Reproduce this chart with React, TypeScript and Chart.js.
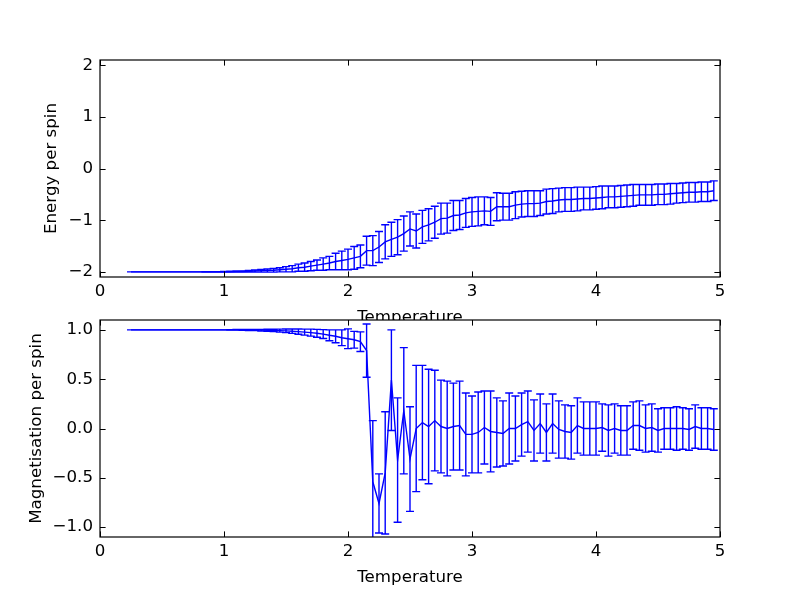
import { useEffect, useRef } from "react";
import { Chart, registerables } from "chart.js";

Chart.register(...registerables);
Chart.defaults.font.family = "'DejaVu Sans', sans-serif";
Chart.defaults.font.size = 16.67;
Chart.defaults.color = "#000";

// Temperature grid
const temperature = [
  0.25, 0.3, 0.35, 0.4, 0.45, 0.5, 0.55, 0.6, 0.65, 0.7, 0.75, 0.8, 0.85, 0.9, 0.95, 1.0,
  1.05, 1.1, 1.15, 1.2, 1.25, 1.3, 1.35, 1.4, 1.45, 1.5, 1.55, 1.6, 1.65, 1.7, 1.75, 1.8,
  1.85, 1.9, 1.95, 2.0, 2.05, 2.1, 2.15, 2.2, 2.25, 2.3, 2.35, 2.4, 2.45, 2.5, 2.55, 2.6,
  2.65, 2.7, 2.75, 2.8, 2.85, 2.9, 2.95, 3.0, 3.05, 3.1, 3.15, 3.2, 3.25, 3.3, 3.35, 3.4,
  3.45, 3.5, 3.55, 3.6, 3.65, 3.7, 3.75, 3.8, 3.85, 3.9, 3.95, 4.0, 4.05, 4.1, 4.15, 4.2,
  4.25, 4.3, 4.35, 4.4, 4.45, 4.5, 4.55, 4.6, 4.65, 4.7, 4.75, 4.8, 4.85, 4.9, 4.95,
];

// Energy per spin and its error
const energy = [
  -2.0, -2.0, -2.0, -2.0, -2.0, -2.0, -2.0, -2.0, -2.0, -2.0, -2.0, -2.0, -2.0, -2.0, -1.999, -1.998,
  -1.997, -1.995, -1.993, -1.99, -1.985, -1.98, -1.975, -1.97, -1.96, -1.95, -1.94, -1.92, -1.91, -1.89, -1.87, -1.85,
  -1.83, -1.8, -1.78, -1.76, -1.73, -1.7, -1.59, -1.59, -1.52, -1.42, -1.37, -1.33, -1.26, -1.17, -1.21, -1.13,
  -1.09, -1.04, -0.97, -0.96, -0.91, -0.9, -0.86, -0.84, -0.83, -0.82, -0.83, -0.74, -0.74, -0.74, -0.71, -0.69,
  -0.68, -0.68, -0.67, -0.64, -0.63, -0.61, -0.6, -0.6, -0.59, -0.58, -0.58, -0.57, -0.56, -0.55, -0.55, -0.54,
  -0.53, -0.52, -0.51, -0.51, -0.51, -0.5, -0.5, -0.49, -0.48, -0.47, -0.46, -0.46, -0.45, -0.45, -0.43,
];
const energyErr = [
  0, 0, 0, 0, 0, 0, 0, 0, 0, 0, 0, 0, 0.002, 0.003, 0.004, 0.006,
  0.008, 0.01, 0.012, 0.015, 0.02, 0.025, 0.03, 0.035, 0.04, 0.05, 0.06, 0.07, 0.08, 0.09, 0.1, 0.12,
  0.13, 0.16, 0.18, 0.2, 0.22, 0.22, 0.28, 0.29, 0.3, 0.33, 0.33, 0.34, 0.34, 0.33, 0.33, 0.32,
  0.31, 0.31, 0.3, 0.29, 0.29, 0.28, 0.28, 0.28, 0.28, 0.27, 0.27, 0.27, 0.26, 0.26, 0.26, 0.25,
  0.25, 0.25, 0.24, 0.24, 0.24, 0.23, 0.23, 0.23, 0.23, 0.22, 0.22, 0.22, 0.22, 0.21, 0.21, 0.21,
  0.21, 0.21, 0.2, 0.2, 0.2, 0.2, 0.2, 0.2, 0.19, 0.19, 0.19, 0.19, 0.19, 0.19, 0.19,
];

// Magnetisation per spin and its error
const magnetisation = [
  1.0, 1.0, 1.0, 1.0, 1.0, 1.0, 1.0, 1.0, 1.0, 1.0, 1.0, 1.0, 1.0, 1.0, 1.0, 1.0,
  1.0, 1.0, 0.999, 0.999, 0.998, 0.997, 0.996, 0.994, 0.992, 0.99, 0.986, 0.982, 0.977, 0.972, 0.965, 0.957,
  0.945, 0.935, 0.92, 0.91, 0.9, 0.88, 0.79, -0.54, -0.76, -0.45, 0.49, -0.32, 0.18, -0.31, 0.0, 0.06,
  0.02, 0.08, 0.02, 0.0, 0.02, 0.03, -0.06, -0.06, -0.04, 0.01, -0.03, -0.04, -0.05, 0.0, 0.0, 0.04,
  0.07, -0.02, 0.05, -0.04, 0.05, -0.01, -0.03, -0.04, 0.03, 0.0, 0.0, 0.0, 0.01, -0.02, 0.0, -0.02,
  -0.02, 0.03, 0.03, 0.0, 0.01, -0.02, 0.0, 0.0, 0.0, 0.0, -0.01, 0.02, 0.0, 0.0, -0.01,
];
const magnetisationErr = [
  0, 0, 0, 0, 0, 0, 0, 0, 0, 0, 0, 0, 0, 0, 0, 0,
  0.002, 0.003, 0.004, 0.005, 0.006, 0.008, 0.01, 0.012, 0.015, 0.018, 0.022, 0.026, 0.03, 0.035, 0.04, 0.045,
  0.055, 0.065, 0.08, 0.1, 0.085, 0.1, 0.27, 0.62, 0.3, 0.62, 0.51, 0.63, 0.64, 0.53, 0.64, 0.58,
  0.58, 0.51, 0.47, 0.48, 0.44, 0.45, 0.42, 0.39, 0.41, 0.37, 0.41, 0.35, 0.33, 0.36, 0.33, 0.32,
  0.31, 0.31, 0.3, 0.29, 0.3, 0.29, 0.27, 0.27, 0.28, 0.27, 0.27, 0.27, 0.24, 0.26, 0.25, 0.25,
  0.25, 0.24, 0.25, 0.24, 0.24, 0.22, 0.21, 0.21, 0.22, 0.21, 0.21, 0.22, 0.21, 0.21, 0.21,
];

// Tick values
const xTicks = [0, 1, 2, 3, 4, 5];
const energyTicks = [-2, -1, 0, 1, 2];
const magnetisationTicks = [-1.0, -0.5, 0.0, 0.5, 1.0];

const BLUE = "#0000ff";
const CAP = 4;
const TICK_LEN = 5.6;

const minus = (s: string) => s.replace("-", "\u2212");

type Panel = {
  values: number[];
  errors: number[];
  yMin: number;
  yMax: number;
  yTicks: number[];
  yTitle: string;
  yTitlePad: number;
  format: (v: number) => string;
  canvasH: number;
  areaTop: number;
  areaBottom: number;
  xTitlePad: number;
};

function makePlugins(values: number[], errors: number[]) {
  return [
    {
      id: "axesBackground",
      beforeDraw(chart: any) {
        const { ctx, chartArea: a } = chart;
        ctx.save();
        ctx.fillStyle = "#fff";
        ctx.fillRect(a.left, a.top, a.right - a.left, a.bottom - a.top);
        ctx.restore();
      },
    },
    {
      id: "errorBars",
      afterDatasetsDraw(chart: any) {
        const { ctx, chartArea: a, scales } = chart;
        ctx.save();
        ctx.beginPath();
        ctx.rect(a.left, a.top, a.right - a.left, a.bottom - a.top);
        ctx.clip();
        ctx.strokeStyle = BLUE;
        ctx.lineWidth = 1.4;
        ctx.beginPath();
        values.forEach((v, i) => {
          const x = scales.x.getPixelForValue(temperature[i]);
          const yTop = scales.y.getPixelForValue(v + errors[i]);
          const yBot = scales.y.getPixelForValue(v - errors[i]);
          ctx.moveTo(x, yTop);
          ctx.lineTo(x, yBot);
          ctx.moveTo(x - CAP, yTop);
          ctx.lineTo(x + CAP, yTop);
          ctx.moveTo(x - CAP, yBot);
          ctx.lineTo(x + CAP, yBot);
        });
        ctx.stroke();
        ctx.restore();
      },
    },
    {
      id: "frame",
      afterDraw(chart: any) {
        const { ctx, chartArea: a, scales } = chart;
        ctx.save();
        ctx.strokeStyle = "#000";
        ctx.lineWidth = 1;
        ctx.beginPath();
        scales.x.ticks.forEach((t: any) => {
          const x = Math.round(scales.x.getPixelForValue(t.value)) + 0.5;
          ctx.moveTo(x, a.bottom);
          ctx.lineTo(x, a.bottom - TICK_LEN);
          ctx.moveTo(x, a.top);
          ctx.lineTo(x, a.top + TICK_LEN);
        });
        scales.y.ticks.forEach((t: any) => {
          const y = Math.round(scales.y.getPixelForValue(t.value)) + 0.5;
          ctx.moveTo(a.left, y);
          ctx.lineTo(a.left + TICK_LEN, y);
          ctx.moveTo(a.right, y);
          ctx.lineTo(a.right - TICK_LEN, y);
        });
        ctx.stroke();
        ctx.lineWidth = 1.2;
        ctx.strokeRect(a.left, a.top, a.right - a.left, a.bottom - a.top);
        ctx.restore();
      },
    },
  ];
}

function makeConfig(p: Panel): any {
  return {
    type: "line",
    data: {
      datasets: [
        {
          data: temperature.map((t, i) => ({ x: t, y: p.values[i] })),
          borderColor: BLUE,
          borderWidth: 1.4,
          pointRadius: 0,
          tension: 0,
          fill: false,
        },
      ],
    },
    options: {
      responsive: false,
      animation: false,
      events: [],
      layout: { padding: { left: 0, right: 80, top: p.areaTop, bottom: 0 } },
      plugins: { legend: { display: false }, tooltip: { enabled: false } },
      scales: {
        x: {
          type: "linear",
          min: 0,
          max: 5,
          afterBuildTicks: (s: any) => {
            s.ticks = xTicks.map((value) => ({ value }));
          },
          afterFit: (s: any) => {
            s.height = p.canvasH - p.areaBottom;
          },
          grid: { display: false, drawTicks: false },
          border: { display: false },
          ticks: {
            padding: 5,
            autoSkip: false,
            maxRotation: 0,
            callback: (v: number) => String(v),
          },
          title: { display: true, text: "Temperature", padding: p.xTitlePad },
        },
        y: {
          type: "linear",
          min: p.yMin,
          max: p.yMax,
          afterBuildTicks: (s: any) => {
            s.ticks = p.yTicks.map((value) => ({ value }));
          },
          afterFit: (s: any) => {
            s.width = 100;
          },
          grid: { display: false, drawTicks: false },
          border: { display: false },
          ticks: { padding: 7, autoSkip: false, callback: (v: number) => p.format(v) },
          title: { display: true, text: p.yTitle, padding: p.yTitlePad },
        },
      },
    },
    plugins: makePlugins(p.values, p.errors),
  };
}

const energyPanel: Panel = {
  values: energy,
  errors: energyErr,
  yMin: -2.1,
  yMax: 2.1,
  yTicks: energyTicks,
  yTitle: "Energy per spin",
  yTitlePad: 42,
  format: (v) => minus(String(v)),
  canvasH: 334,
  areaTop: 60,
  areaBottom: 277,
  xTitlePad: 6,
};

const magnetisationPanel: Panel = {
  values: magnetisation,
  errors: magnetisationErr,
  yMin: -1.1,
  yMax: 1.1,
  yTicks: magnetisationTicks,
  yTitle: "Magnetisation per spin",
  yTitlePad: 27,
  format: (v) => minus(v.toFixed(1)),
  canvasH: 297,
  areaTop: 20,
  areaBottom: 237,
  xTitlePad: 9,
};

export default function App() {
  const topRef = useRef<HTMLCanvasElement | null>(null);
  const bottomRef = useRef<HTMLCanvasElement | null>(null);

  useEffect(() => {
    const charts: Chart[] = [];
    if (topRef.current) charts.push(new Chart(topRef.current, makeConfig(energyPanel)));
    if (bottomRef.current) charts.push(new Chart(bottomRef.current, makeConfig(magnetisationPanel)));
    return () => charts.forEach((c) => c.destroy());
  }, []);

  return (
    <div style={{ position: "fixed", left: 0, top: 0, width: 800, height: 597, background: "#fff" }}>
      <canvas ref={topRef} width={800} height={334} style={{ position: "absolute", left: 0, top: 0 }} />
      <canvas ref={bottomRef} width={800} height={297} style={{ position: "absolute", left: 0, top: 300 }} />
    </div>
  );
}
